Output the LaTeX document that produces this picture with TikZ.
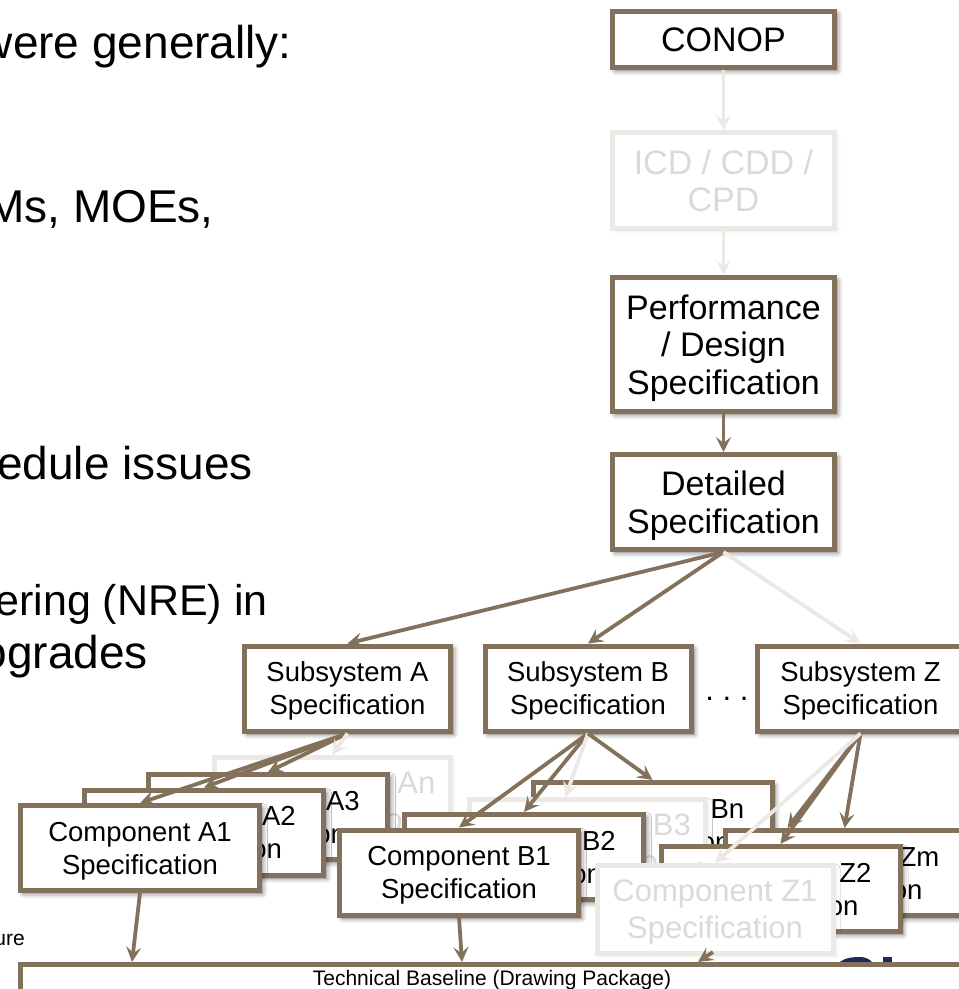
\documentclass[tikz,border=0pt]{standalone}
\usepackage{fontspec}
\setmainfont{Liberation Sans}
\usetikzlibrary{arrows.meta,calc,shadows.blur}

\definecolor{specbrown}{RGB}{131,113,91}
\definecolor{fadeline}{RGB}{236,233,228}
\definecolor{fadetext}{RGB}{218,218,218}
\definecolor{logonavy}{RGB}{30,40,95}

\begin{document}
\begin{tikzpicture}[x=1pt, y=-1pt]
    \tikzstyle{box_base} = [line width=5pt, fill=white, align=center, inner sep=0pt, text depth=0pt]
    \tikzstyle{box_style} = [box_base, draw=specbrown, blur shadow={shadow xshift=3pt, shadow yshift=-3pt, shadow blur radius=5pt, shadow opacity=60}]
    \tikzstyle{box_faded} = [box_base, draw=fadeline, text=fadetext, blur shadow={shadow xshift=3pt, shadow yshift=-3pt, shadow blur radius=4pt, shadow opacity=8}]
    \tikzstyle{top_size} = [minimum width=222pt, font=\fontsize{34}{37.5}\selectfont]
    \tikzstyle{sub_size} = [minimum width=206pt, minimum height=85pt, font=\fontsize{27.5}{33}\selectfont]
    \tikzstyle{comp_size} = [minimum width=239pt, minimum height=85pt, font=\fontsize{27.5}{33}\selectfont]
    \tikzstyle{comp_faded_size} = [minimum width=236pt, minimum height=88pt, font=\fontsize{31}{37}\selectfont]
    \tikzstyle{edge_style} = [draw=specbrown, line width=3.8pt, -{Stealth[length=15pt,width=15pt,inset=6pt]}]
    \tikzstyle{edge_faded} = [edge_style, draw=fadeline]
    \tikzstyle{slide_text} = [anchor=base east, inner sep=0pt, font=\fontsize{46}{55}\selectfont]
    \useasboundingbox (0,0) rectangle (959,989);

    % text of the slide, cut at the left
    \node[slide_text] (t1) at (292,58) {were generally:};
    \node[slide_text] (t2) at (214,222) {Ms, MOEs,};
    \node[slide_text] (t3) at (253,479) {edule issues};
    \node[slide_text, font=\fontsize{43}{52}\selectfont] (t4) at (268,615) {ering (NRE) in};
    \node[slide_text] (t5) at (148,668) {ogrades};
    \node[slide_text, font=\fontsize{21}{25}\selectfont] (t6) at (25,945) {ure};

    % logo behind the baseline
    \fill[logonavy] (833,972) .. controls (838,958) and (850,957) .. (860,957) .. controls (868,957) and (875,962) .. (877,972) -- cycle;
    \fill[logonavy] (883,957) rectangle (892,972);

    % top chain
    \node[box_style, top_size, minimum height=56pt] (conop) at (723.5,39.5) {CONOP};
    \node[box_faded, top_size, minimum height=96pt] (icd) at (723.5,180.5) {ICD / CDD /\\CPD};
    \node[box_style, top_size, minimum height=134pt] (perf) at (723.5,344.5) {Performance\\/ Design\\Specification};
    \node[box_style, top_size, minimum height=95pt] (detail) at (723.5,502) {Detailed\\Specification};

    \draw[edge_faded] (conop) -- (icd);
    \draw[edge_faded] (icd) -- (perf);
    \draw[edge_style] (perf) -- (detail);

    % subsystems
    \node[box_style, sub_size] (subA) at (347.5,688.5) {Subsystem A\\Specification};
    \node[box_style, sub_size] (subB) at (588,688.5) {Subsystem B\\Specification};
    \node[box_style, sub_size] (subZ) at (860.5,688.5) {Subsystem Z\\Specification};
    \node[anchor=base, inner sep=0pt, font=\fontsize{31}{36}\selectfont] (dots) at (727,700) {.\ .\ .};

    \draw[edge_style] (detail.south) -- (subA.north);
    \draw[edge_style] (detail.south) -- (subB.north);
    \draw[edge_faded] (detail.south) -- (subZ.north);

    % component stacks, back to front
    \node[box_faded, comp_faded_size] (compAn) at (332,801.5) {Component An\\Specification};
    \node[box_style, comp_size] (compA3) at (268,817) {Component A3\\Specification};
    \node[box_style, comp_size] (compA2) at (204,832.5) {Component A2\\Specification};
    \node[box_style, comp_size] (compA1) at (140,848) {Component A1\\Specification};

    \node[box_style, comp_size] (compBn) at (652.5,825) {Component Bn\\Specification};
    \node[box_faded, comp_faded_size] (compB3) at (587.5,843.5) {Component B3\\Specification};
    \node[box_style, comp_size] (compB2) at (524,857) {Component B2\\Specification};
    \node[box_style, comp_size] (compB1) at (459,872.5) {Component B1\\Specification};

    \node[box_style, comp_size] (compZm) at (844.5,873) {Component Zm\\Specification};
    \node[box_style, comp_size] (compZ2) at (780.5,889) {Component Z2\\Specification};
    \node[box_faded, comp_faded_size] (compZ1) at (715,909.5) {Component Z1\\Specification};

    % technical baseline
    \node[box_style, anchor=north, minimum width=943pt, inner ysep=5.5pt, text height=15pt, text depth=30pt,
        font=\fontsize{21}{25}\selectfont] (drawpkg) at (492,962) {Technical Baseline (Drawing Package)};
    \coordinate (pkgA) at (132,962);
    \coordinate (pkgB) at (462,962);
    \coordinate (pkgZ) at (698,962);
    \coordinate (footZ1) at (713,952);

    \draw[edge_style] (subA.south) -- (compA1.north);
    \draw[edge_style] (subA.south) -- (compA2.north);
    \draw[edge_style] (subA.south) -- (compA3.north);
    \draw[edge_faded] (subA.south) -- (compAn.north);

    \draw[edge_style] (subB.south) -- (compB1.north);
    \draw[edge_style] (subB.south) -- (compB2.north);
    \draw[edge_faded] (subB.south) -- ($(compB3.north)+(-22,0)$);
    \draw[edge_style] (subB.south) -- (compBn.north);

    \draw[edge_style] (subZ.south) -- ($(compZm.north west)+(65,0)$);
    \draw[edge_style] (subZ.south) -- (compZ2.north);
    \draw[edge_style] (subZ.south) -- (compZm.north);
    \draw[edge_faded] (subZ.south) -- (compZ1.north);

    \draw[edge_style] (compA1.south) -- (pkgA);
    \draw[edge_style] (compB1.south) -- (pkgB);
    \draw[edge_style] (footZ1) -- (pkgZ);
\end{tikzpicture}
\end{document}
